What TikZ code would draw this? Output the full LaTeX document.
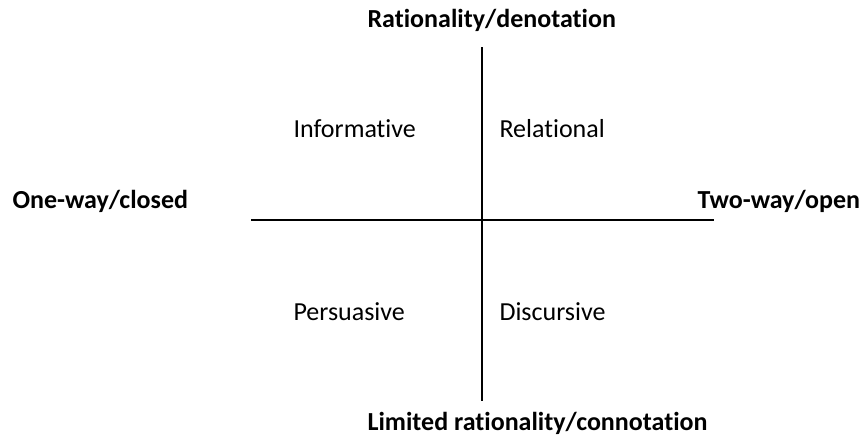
\documentclass[tikz,border=0pt]{standalone}
\usepackage{fontspec}
\setmainfont{Carlito}[Ligatures=NoCommon]
\usepackage{tikz}
\usetikzlibrary{positioning}

\begin{document}
\begin{tikzpicture}[x=0.75pt, y=-0.75pt, thick, font=\fontsize{19.5}{22}\selectfont]
            \useasboundingbox (0,0) rectangle (866,436);
            \tikzset{axislabel/.style={font=\fontsize{19.5}{22}\selectfont\bfseries, anchor=base west, inner sep=0pt}}
            \tikzset{quad/.style={anchor=base west, inner sep=0pt}}
            % axis ends
            \coordinate (top) at (482,47);
            \coordinate (bottom) at (482,401);
            \coordinate (left) at (251,220);
            \coordinate (right) at (714,220);
            % axis labels
            \node [axislabel] (rational) at (367,27) {Rationality/denotation};
            \node [axislabel] (limited) at (367,430) {Limited rationality/connotation};
            \node [axislabel] (oneway) at (12,208) {One-way/closed};
            \node [axislabel] (twoway) at (697,208) {Two-way/open};
            % quadrants
            \node [quad] (informative) at (293,137) {Informative};
            \node [quad] (relational) at (499,137) {Relational};
            \node [quad] (persuasive) at (293,320) {Persuasive};
            \node [quad] (discursive) at (499,320) {Discursive};
            \draw [line width=0.9pt] (top) -- (bottom);
            \draw [line width=0.9pt] (left) -- (right);
        \end{tikzpicture}
\end{document}
